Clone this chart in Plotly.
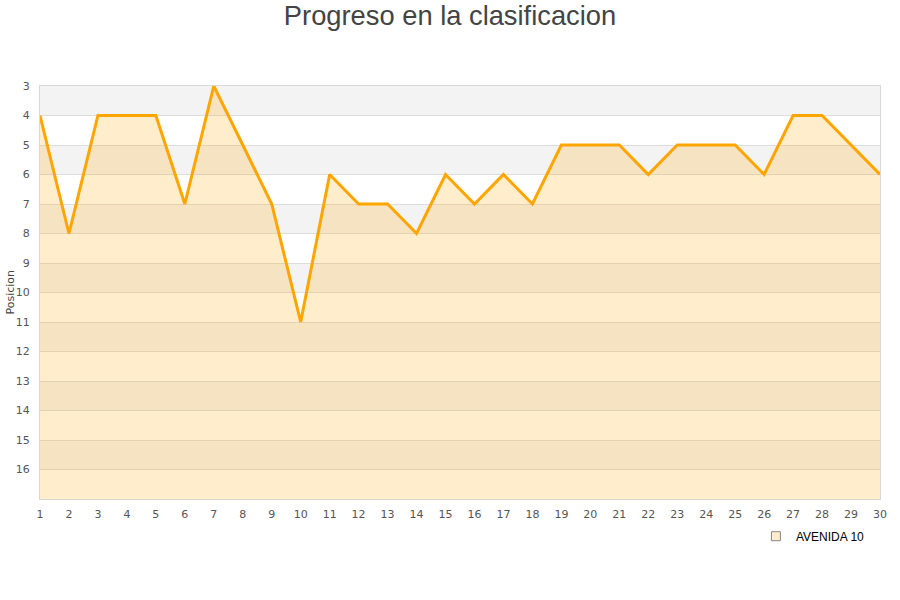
import plotly.graph_objects as go

jornadas = list(range(1, 31))
posiciones = [4, 8, 4, 4, 4, 7, 3, 5, 7, 11, 6, 7, 7, 8, 6, 7, 6, 7, 5, 5, 5, 6, 5, 5, 5, 6, 4, 4, 5, 6]
equipo = "AVENIDA 10"
y_ticks = list(range(3, 17))
y_min, y_max = 3, 17

fig = go.Figure()

# alternating bands
shapes = []
for v in range(y_min, y_max):
    if (v - y_min) % 2 == 0:
        shapes.append(dict(type="rect", xref="paper", yref="y", x0=0, x1=1, y0=v, y1=v + 1,
                           fillcolor="#f3f3f3", line=dict(width=0), layer="below"))

# baseline for fill
fig.add_trace(go.Scatter(x=jornadas, y=[y_max] * len(jornadas), mode="lines",
                         line=dict(width=0), showlegend=False, hoverinfo="skip"))
fig.add_trace(go.Scatter(x=jornadas, y=posiciones, mode="lines", name=equipo,
                         line=dict(color="#ffa500", width=3), fill="tonexty",
                         fillcolor="rgba(255,165,0,0.2)", showlegend=False))
# legend entry
fig.add_trace(go.Scatter(x=[None], y=[None], mode="markers", name=equipo,
                         marker=dict(symbol="square", size=9, color="#ffedcc",
                                     line=dict(color="#888888", width=1))))

fig.update_layout(
    width=900, height=600,
    paper_bgcolor="white", plot_bgcolor="white",
    margin=dict(l=40, r=20, t=86, b=101),
    title=dict(text="Progreso en la clasificacion", x=0.5, xanchor="center", y=0.975, yanchor="middle",
               font=dict(family="Liberation Sans", size=27.3, color="#444444")),
    font=dict(family="DejaVu Sans", size=11, color="#555555"),
    shapes=shapes,
    showlegend=True,
    legend=dict(x=0.988, xanchor="right", y=-0.055, yanchor="top", orientation="h",
                font=dict(family="Liberation Sans", size=12, color="#000000"),
                bgcolor="rgba(0,0,0,0)"),
    annotations=[dict(text="Posicion", textangle=-90, xref="paper", yref="paper",
                      x=-30 / 840, y=0.5, xanchor="center", yanchor="middle", showarrow=False,
                      font=dict(family="DejaVu Sans", size=11, color="#444444"))],
)
fig.update_xaxes(range=[1, 30], tickmode="array", tickvals=jornadas, showgrid=False,
                 showline=True, linecolor="#d8d8d8", mirror=True, zeroline=False,
                 ticks="outside", ticklen=5, tickcolor="rgba(0,0,0,0)", tickfont=dict(size=11),
                 automargin=False)
fig.update_yaxes(range=[y_max, y_min], tickmode="array", tickvals=y_ticks, showgrid=True,
                 gridcolor="#dddddd", showline=True, linecolor="#d8d8d8", mirror=True,
                 zeroline=False, ticks="outside", ticklen=7, tickcolor="rgba(0,0,0,0)",
                 tickfont=dict(size=11), automargin=False)

fig.write_html("out.html", post_script="document.body.style.margin='0';",
               config={"displayModeBar": False})
